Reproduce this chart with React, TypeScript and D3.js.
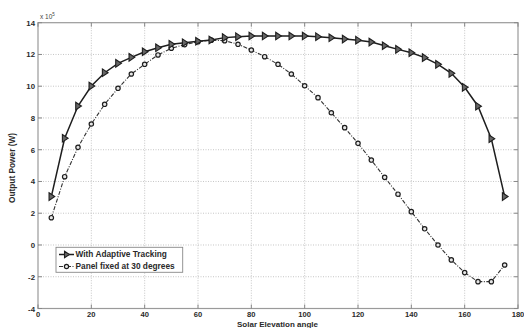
import React from "react";
import * as d3 from "d3";

const angles = [5,10,15,20,25,30,35,40,45,50,55,60,65,70,75,80,85,90,95,100,105,110,115,120,125,130,135,140,145,150,155,160,165,170,175];
const tracking = [3.05,6.72,8.75,10.01,10.85,11.44,11.82,12.17,12.42,12.64,12.74,12.83,12.91,13.06,13.12,13.16,13.16,13.16,13.16,13.16,13.12,13.05,12.97,12.9,12.78,12.55,12.32,12.11,11.8,11.38,10.81,9.93,8.74,6.69,3.05];
const fixed30 = [1.72,4.3,6.15,7.62,8.86,9.87,10.77,11.38,11.97,12.39,12.62,12.8,12.9,12.87,12.64,12.28,11.86,11.38,10.77,10.03,9.28,8.33,7.39,6.4,5.35,4.26,3.2,2.1,1.02,0.0,-0.94,-1.74,-2.31,-2.31,-1.26];
const xTicks = [0,20,40,60,80,100,120,140,160,180];
const yTicks = [-4,-2,0,2,4,6,8,10,12,14];
const seriesNames = ["With Adaptive Tracking", "Panel fixed at 30 degrees"];

const W = 524, H = 328;
const L = 38, R = 518, T = 22.7, B = 308.5;

export default function App() {
  const x = d3.scaleLinear().domain([0, 180]).range([L, R]);
  const y = d3.scaleLinear().domain([-4, 14]).range([B, T]);
  const trackPath = d3.line<number>().x((_, i) => x(angles[i])).y(d => y(d))(tracking) || "";
  const fixedPath = d3.line<number>().x((_, i) => x(angles[i])).y(d => y(d))(fixed30) || "";
  const font = "'Liberation Sans', Arial, sans-serif";
  const tri = (cx: number, cy: number, s = 3.8) =>
    `M${cx - s * 0.6},${cy - s} L${cx + s * 0.9},${cy} L${cx - s * 0.6},${cy + s} Z`;
  const ink = "#1e1e1e";
  const txt = "#2a2a2a";
  return (
    <svg width={W} height={H} style={{ position: "absolute", left: 0, top: 0 }} xmlns="http://www.w3.org/2000/svg">
      <rect x={0} y={0} width={W} height={H} fill="#fff" />
      {xTicks.slice(1, -1).map(t => (
        <line key={"gx" + t} x1={x(t)} x2={x(t)} y1={T} y2={B} stroke="#b8b8b8" strokeWidth={0.8} strokeDasharray="1,1.5" />
      ))}
      {yTicks.slice(1, -1).map(t => (
        <line key={"gy" + t} x1={L} x2={R} y1={y(t)} y2={y(t)} stroke="#b8b8b8" strokeWidth={0.8} strokeDasharray="1,1.5" />
      ))}
      <rect x={L} y={T} width={R - L} height={B - T} fill="none" stroke="#9a9a9a" strokeWidth={1.2} />
      {xTicks.map(t => (
        <g key={"tx" + t}>
          <line x1={x(t)} x2={x(t)} y1={B} y2={B - 4} stroke="#888" />
          <line x1={x(t)} x2={x(t)} y1={T} y2={T + 4} stroke="#888" />
          <text x={x(t)} y={B + 8.3} fontSize={7.6} fontWeight="bold" fontFamily={font} textAnchor="middle" fill={txt}>{t}</text>
        </g>
      ))}
      {yTicks.map(t => (
        <g key={"ty" + t}>
          <line x1={L} x2={L + 4} y1={y(t)} y2={y(t)} stroke="#888" />
          <line x1={R} x2={R - 4} y1={y(t)} y2={y(t)} stroke="#888" />
          <text x={L - 3} y={y(t) + 3} fontSize={7.8} fontWeight="bold" fontFamily={font} textAnchor="end" fill={txt}>{t}</text>
        </g>
      ))}
      <text x={L + 2} y={T - 4} fontSize={6.5} fontFamily={font} fill="#444">x 10<tspan dy={-3} fontSize={4.5}>5</tspan></text>
      <text transform={`translate(15,168) rotate(-90)`} fontSize={8.3} fontWeight="bold" fontFamily={font} textAnchor="middle" fill={txt}>Output Power (W)</text>
      <text x={277.5} y={326.8} fontSize={8} fontWeight="bold" fontFamily={font} textAnchor="middle" fill={txt}>Solar Elevation angle</text>
      <path d={fixedPath} fill="none" stroke="#333" strokeWidth={1.1} strokeDasharray="4,1.5,1,1.5" />
      {fixed30.map((v, i) => (
        <circle key={"c" + i} cx={x(angles[i])} cy={y(v)} r={2.2} fill="#e6e6e6" stroke={ink} strokeWidth={1.2} />
      ))}
      <path d={trackPath} fill="none" stroke={ink} strokeWidth={1.5} />
      {tracking.map((v, i) => (
        <path key={"t" + i} d={tri(x(angles[i]), y(v))} fill="#666" stroke={ink} strokeWidth={1.1} />
      ))}
      <g>
        <rect x={56} y={247.3} width={126.7} height={25} fill="#fff" stroke="#888" strokeWidth={0.9} />
        <line x1={59} x2={74} y1={254.5} y2={254.5} stroke={ink} strokeWidth={1.5} />
        <path d={tri(66.5, 254.5, 3.3)} fill="#666" stroke={ink} strokeWidth={1.1} />
        <text x={75.5} y={257.3} fontSize={8.3} fontWeight="bold" fontFamily={font} fill={txt}>{seriesNames[0]}</text>
        <line x1={59} x2={74} y1={266.5} y2={266.5} stroke="#333" strokeWidth={1.1} strokeDasharray="4,1.5,1,1.5" />
        <circle cx={66.5} cy={266.5} r={2.1} fill="#e6e6e6" stroke={ink} strokeWidth={1.2} />
        <text x={75.5} y={269.3} fontSize={8.3} fontWeight="bold" fontFamily={font} fill={txt}>{seriesNames[1]}</text>
      </g>
    </svg>
  );
}
